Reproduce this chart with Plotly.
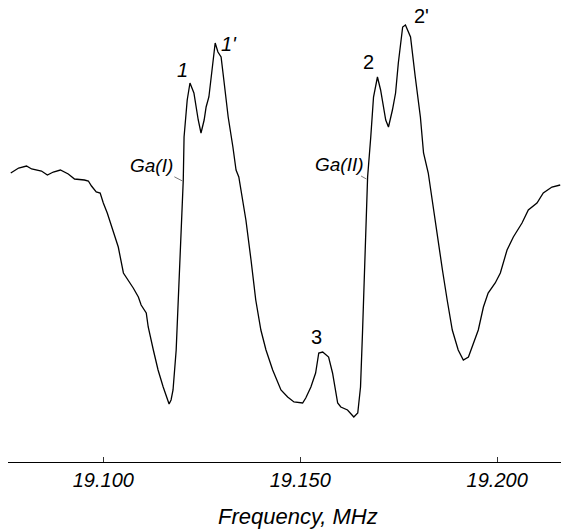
import plotly.graph_objects as go

# Frequency (MHz) and signal intensity (arbitrary units)
freq_mhz = [
    19.0765, 19.0785, 19.0805, 19.0818, 19.0843, 19.0858, 19.0873, 19.0891, 19.0911, 19.0927,
    19.0952, 19.0962, 19.0970, 19.0982, 19.0992, 19.1000, 19.1010, 19.1025, 19.1038, 19.1051,
    19.1063, 19.1076, 19.1089, 19.1096, 19.1109, 19.1114, 19.1127, 19.1139, 19.1152, 19.1162,
    19.1167, 19.1172, 19.1177, 19.1185, 19.1192, 19.1198, 19.1203, 19.1205, 19.1213, 19.1220,
    19.1230, 19.1241, 19.1248, 19.1256, 19.1261, 19.1268, 19.1279, 19.1284, 19.1291, 19.1299,
    19.1306, 19.1317, 19.1329, 19.1337, 19.1344, 19.1354, 19.1362, 19.1375, 19.1387, 19.1400,
    19.1413, 19.1430, 19.1451, 19.1468, 19.1484, 19.1506, 19.1514, 19.1527, 19.1539, 19.1547,
    19.1557, 19.1572, 19.1582, 19.1595, 19.1603, 19.1620, 19.1636, 19.1646, 19.1653, 19.1658,
    19.1661, 19.1666, 19.1671, 19.1679, 19.1686, 19.1696, 19.1704, 19.1717, 19.1724, 19.1734,
    19.1742, 19.1749, 19.1760, 19.1767, 19.1780, 19.1792, 19.1805, 19.1813, 19.1825, 19.1835,
    19.1848, 19.1861, 19.1873, 19.1886, 19.1901, 19.1914, 19.1927, 19.1939, 19.1952, 19.1965,
    19.1977, 19.1995, 19.2008, 19.2025, 19.2041, 19.2063, 19.2079, 19.2101, 19.2117, 19.2139,
    19.2160,
]
intensity = [
    2.89, 2.94, 2.96, 2.93, 2.91, 2.87, 2.90, 2.92, 2.88, 2.83,
    2.82, 2.81, 2.76, 2.70, 2.69, 2.59, 2.49, 2.32, 2.15, 1.89,
    1.82, 1.74, 1.65, 1.57, 1.49, 1.35, 1.12, 0.92, 0.75, 0.62,
    0.58, 0.62, 0.72, 1.12, 1.79, 2.29, 2.82, 3.25, 3.62, 3.79,
    3.69, 3.42, 3.29, 3.42, 3.55, 3.65, 4.02, 4.19, 4.10, 4.05,
    3.82, 3.45, 3.15, 2.92, 2.85, 2.62, 2.42, 2.02, 1.62, 1.32,
    1.12, 0.92, 0.72, 0.65, 0.60, 0.59, 0.64, 0.75, 0.89, 1.09,
    1.10, 1.05, 0.89, 0.59, 0.55, 0.52, 0.45, 0.49, 0.75, 1.29,
    1.62, 2.19, 2.85, 3.25, 3.65, 3.85, 3.72, 3.42, 3.35, 3.52,
    3.69, 3.99, 4.35, 4.37, 4.25, 3.85, 3.45, 3.09, 2.89, 2.62,
    2.25, 1.92, 1.62, 1.32, 1.12, 1.02, 1.05, 1.19, 1.32, 1.55,
    1.69, 1.79, 1.89, 2.12, 2.25, 2.39, 2.52, 2.59, 2.69, 2.75,
    2.77,
]

tick_vals = [19.100, 19.150, 19.200]
tick_text = ["19.100", "19.150", "19.200"]

# Peak labels: text, x, y, italic
peak_labels = ["1", "1'", "2", "2'", "3"]
peak_x = [19.1200, 19.1318, 19.1673, 19.1808, 19.1542]
peak_y = [3.92, 4.18, 4.00, 4.46, 1.25]
peak_italic = [True, True, False, False, False]

# Leader-line labels: text, text position, point on curve
ga_labels = ["Ga(I)", "Ga(II)"]
ga_text_x = [19.1122, 19.1600]
ga_text_y = [2.97, 2.98]
ga_pt_x = [19.1201, 19.1668]
ga_pt_y = [2.81, 2.83]

FONT = "Arial, 'Liberation Sans', sans-serif"

fig = go.Figure()
fig.add_trace(go.Scatter(
    x=freq_mhz, y=intensity, mode="lines",
    line=dict(color="black", width=1.3),
    showlegend=False, hoverinfo="skip",
))

annotations = []
for t, x, y, it in zip(peak_labels, peak_x, peak_y, peak_italic):
    annotations.append(dict(
        x=x, y=y, xref="x", yref="y", text=t, showarrow=False,
        font=dict(family=FONT, size=20, color="black",
                  style="italic" if it else "normal"),
    ))
for t, tx, ty, px, py in zip(ga_labels, ga_text_x, ga_text_y, ga_pt_x, ga_pt_y):
    annotations.append(dict(
        x=px, y=py, xref="x", yref="y", ax=tx, ay=ty, axref="x", ayref="y",
        text=t, showarrow=True, arrowhead=0, arrowwidth=0.8, arrowcolor="#555555",
        font=dict(family=FONT, size=19, color="black", style="italic"),
    ))
# axis title as annotation (centred where the reference places it)
annotations.append(dict(
    x=0.524, y=-0.117, xref="paper", yref="paper", text="Frequency, MHz",
    showarrow=False, yanchor="middle",
    font=dict(family=FONT, size=22, color="black", style="italic"),
))

fig.update_layout(
    width=561, height=532,
    margin=dict(l=8, r=0, t=0, b=70),
    paper_bgcolor="white", plot_bgcolor="white",
    annotations=annotations,
    xaxis=dict(
        range=[19.0758, 19.2162],
        tickvals=tick_vals, ticktext=tick_text,
        ticks="inside", ticklen=5, tickcolor="#333333", tickwidth=1,
        showline=True, linecolor="black", linewidth=1.3,
        showgrid=False, zeroline=False,
        tickfont=dict(family=FONT, size=20, color="black", style="italic"),
        automargin=False,
    ),
    yaxis=dict(range=[0, 4.62], visible=False, showgrid=False, zeroline=False),
)

fig.write_html("out.html", config={"displayModeBar": False},
               post_script="document.body.style.margin='0';")
